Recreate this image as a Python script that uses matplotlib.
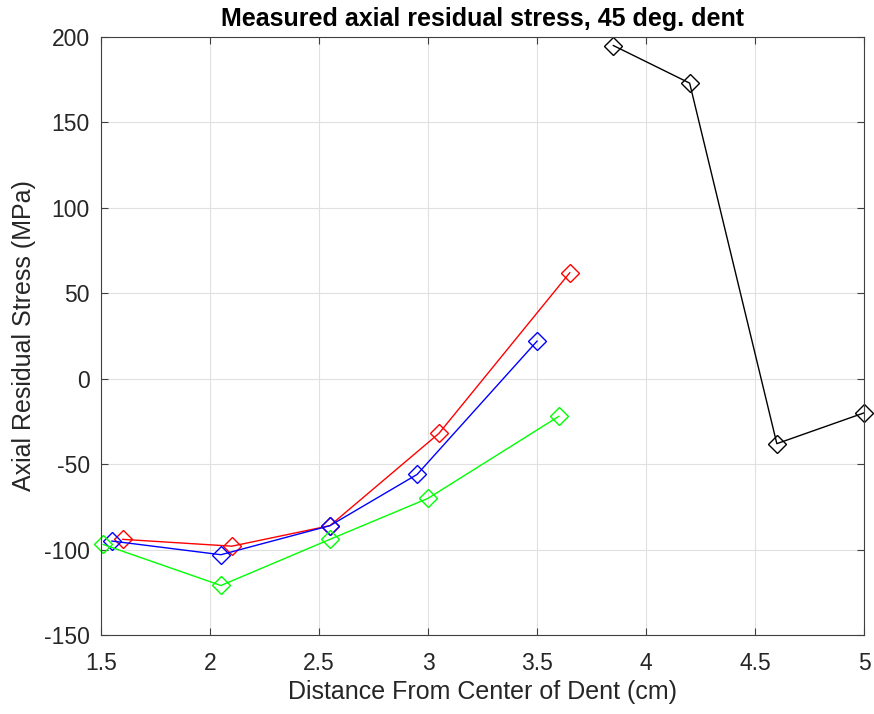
import matplotlib.pyplot as plt

plt.rcParams['font.family'] = ['Liberation Sans', 'DejaVu Sans']
plt.rcParams['axes.unicode_minus'] = False

red_x = [1.6, 2.1, 2.55, 3.05, 3.65]
red_y = [-94, -98, -86, -32, 62]
blue_x = [1.55, 2.05, 2.55, 2.95, 3.5]
blue_y = [-95, -103, -86, -56, 22]
green_x = [1.51, 2.05, 2.55, 3.0, 3.6]
green_y = [-97, -121, -94, -70, -22]
black_x = [3.85, 4.2, 4.6, 5.0]
black_y = [195, 173, -38, -20]

fig = plt.figure(figsize=(8.74, 7.14), dpi=100)
ax = fig.add_axes([0.1156, 0.1106, 0.873, 0.8376])

for xs, ys, c in [(red_x, red_y, '#ff0000'), (blue_x, blue_y, '#0000ff'),
                  (green_x, green_y, '#00ff00'), (black_x, black_y, '#000000')]:
    ax.plot(xs, ys, color=c, lw=1, marker='D', ms=9.5, mfc='none', mew=1,
            clip_on=False)

ax.set_xlim(1.5, 5)
ax.set_ylim(-150, 200)
ax.set_xticks([1.5, 2, 2.5, 3, 3.5, 4, 4.5, 5])
ax.set_xticklabels(['1.5', '2', '2.5', '3', '3.5', '4', '4.5', '5'])
ax.grid(True, color='#e0e0e0', lw=0.8)
ax.set_axisbelow(True)
ax.tick_params(direction='in', top=True, right=True, labelsize=16.5, length=5,
               color='#404040', labelcolor='#262626', width=0.8)
ax.tick_params(axis='x', pad=12)
ax.tick_params(axis='y', pad=8)
for s in ax.spines.values():
    s.set_linewidth(0.8)
    s.set_color('#404040')
ax.set_title('Measured axial residual stress, 45 deg. dent', fontsize=18,
             fontweight='bold', pad=8)
ax.set_xlabel('Distance From Center of Dent (cm)', fontsize=18,
              color='#262626', labelpad=4)
ax.set_ylabel('Axial Residual Stress (MPa)', fontsize=18,
              color='#262626', labelpad=6)

plt.savefig('out.png')
